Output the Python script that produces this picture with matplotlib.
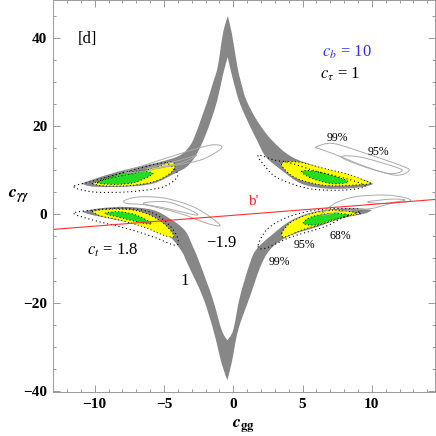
import matplotlib
matplotlib.use("Agg")
import numpy as np
import matplotlib.pyplot as plt
from matplotlib.path import Path
from matplotlib.patches import PathPatch
from matplotlib.ticker import MultipleLocator

plt.rcParams["font.family"] = "serif"
plt.rcParams["font.serif"] = ["Liberation Serif", "DejaVu Serif"]
plt.rcParams["mathtext.fontset"] = "stix"

# ---- regions (c_gg, c_yy) ----
gray_upper = [(-10.94, 7.0), (-9.6, 8.5), (-7.7, 10.2), (-5.3, 11.9), (-3.85, 13.4),
              (-3.1, 15.7), (-2.7, 18.4), (-2.35, 21.4), (-1.85, 25.9), (-1.45, 30.0),
              (-1.12, 33.5), (-0.74, 41.1), (-0.4, 45.0), (-0.1, 41.1), (0.3, 33.5),
              (0.6, 29.5), (0.95, 25.9), (1.7, 21.4), (2.77, 16.9), (4.2, 13.1),
              (6.1, 10.8), (8.06, 8.9), (9.5, 7.8), (10.1, 6.9),
              (9.5, 6.3), (8.3, 5.9), (6.6, 5.9), (4.9, 7.0), (3.5, 10.0), (2.35, 13.1),
              (1.7, 16.9), (1.0, 21.4), (0.4, 25.9), (-0.1, 31.6), (-0.4, 35.7),
              (-0.75, 31.6), (-1.15, 25.9), (-1.6, 21.4), (-1.95, 18.4), (-2.3, 15.8),
              (-2.75, 13.1), (-3.36, 10.8), (-4.4, 9.0), (-5.8, 7.0), (-7.7, 6.3),
              (-10.1, 6.3)]
gray_lower = [(-10.94, 0.6), (-9.6, 1.4), (-7.7, 1.7), (-5.8, 1.0), (-4.6, -0.9),
              (-3.5, -3.6), (-2.9, -7.4), (-2.4, -11.2), (-1.5, -19.0), (-0.84, -26.2),
              (-0.43, -28.5), (0.0, -26.2), (0.48, -18.7), (1.2, -11.1), (1.7, -7.8),
              (2.77, -4.7), (4.0, -1.7), (5.4, 0.2), (7.1, 1.2), (9.0, 1.4), (9.98, 1.0),
              (9.5, 0.2), (7.8, -0.9), (6.1, -2.8), (4.2, -4.7), (2.85, -7.35),
              (2.05, -11.2), (1.2, -18.7), (0.36, -26.2), (-0.12, -33.8), (-0.43, -37.6),
              (-0.84, -33.8), (-1.44, -26.2), (-2.2, -18.7), (-3.3, -11.2), (-3.7, -8.5),
              (-4.57, -5.1), (-5.8, -3.2), (-7.7, -1.7), (-10.1, -0.2)]
# pointed ends of the bands (arm tips and spike tips)
band_tips = [(-10.94, 7.0), (-0.4, 45.0), (10.1, 6.9), (-0.4, 35.7),
             (-10.94, 0.6), (-0.43, -28.5), (9.98, 1.0), (-0.43, -37.6)]

yellow_regions = [
    [(-10.2, 7.0), (-8.9, 8.2), (-7.2, 9.3), (-5.5, 10.8), (-4.57, 11.9), (-4.2, 11.2),
     (-4.57, 9.3), (-5.77, 7.4), (-7.69, 6.5), (-9.4, 6.5)],
    [(-10.2, 0.75), (-8.9, 1.2), (-7.2, 0.97), (-6.0, -0.16), (-5.05, -2.0), (-4.45, -3.95),
     (-4.33, -5.1), (-5.05, -4.7), (-6.5, -2.8), (-8.2, -1.3), (-9.6, -0.3)],
    [(3.5, 11.6), (4.7, 11.9), (6.6, 10.4), (8.5, 8.9), (10.0, 7.0), (8.5, 6.6),
     (6.6, 6.6), (4.9, 7.8), (4.0, 9.3)],
    [(3.5, -4.3), (4.2, -1.7), (5.66, 0.23), (7.34, 0.97), (9.26, 0.23), (8.06, -0.54),
     (6.6, -2.0), (4.93, -3.56), (3.73, -5.1)],
]
yellow_tips = [(-10.2, 7.0), (-10.2, 0.75), (10.0, 7.0), (9.26, 0.23)]
green_regions = [
    [(-9.8, 7.2), (-8.8, 8.6), (-7.7, 9.6), (-6.5, 9.8), (-5.8, 9.3), (-6.3, 8.3),
     (-7.2, 7.2), (-8.5, 6.8)],
    [(-9.25, 0.23), (-8.2, 0.6), (-7.0, -0.16), (-5.9, -2.0), (-6.5, -2.0), (-7.9, -0.9)],
    [(4.93, 9.7), (5.66, 9.9), (7.1, 8.9), (8.3, 7.4), (7.1, 7.0), (5.66, 8.2)],
    [(5.05, -2.0), (5.66, -0.54), (7.1, 0.23), (8.4, -0.16), (7.1, -1.3), (5.9, -2.4)],
]
dotted_loops = [
    [(-11.5, 6.3), (-10.1, 5.1), (-7.7, 5.1), (-5.5, 5.9), (-4.57, 7.0), (-4.0, 9.0),
     (-4.6, 11.3), (-5.3, 11.6), (-7.7, 9.7), (-10.1, 7.6)],
    [(-11.5, 0.23), (-10.1, -1.3), (-7.7, -3.2), (-5.77, -5.1), (-4.2, -7.0), (-4.0, -5.5),
     (-4.6, -2.5), (-5.8, 0.3), (-7.7, 1.4), (-10.1, 1.0)],
    [(1.8, 13.4), (2.4, 10.5), (3.25, 8.2), (5.4, 5.9), (7.8, 5.5), (9.5, 6.3), (8.5, 7.8),
     (6.0, 9.8), (4.0, 11.8), (3.0, 12.3)],
    [(1.8, -7.0), (2.5, -3.2), (4.0, -0.54), (5.9, 0.97), (7.8, 1.36), (9.26, 0.97),
     (8.0, -0.6), (6.6, -2.8), (4.2, -5.1), (2.3, -7.7)],
]
thin_loops = [
    [(-7.8, 9.7), (-6.0, 11.6), (-3.4, 14.2), (-1.7, 15.7), (-0.9, 15.6), (-1.0, 14.6),
     (-2.4, 12.3), (-4.8, 10.8), (-6.7, 9.7)],
    [(-6.25, 10.4), (-3.85, 12.3), (-2.64, 13.4), (-3.85, 11.6)],
    [(-7.8, 3.24), (-6.7, 4.0), (-4.8, 3.6), (-2.64, 1.36), (-0.96, -2.4), (-1.92, -2.0),
     (-3.85, 0.23), (-6.25, 2.1), (-7.7, 2.5)],
    [(-6.5, 2.5), (-4.8, 2.86), (-3.1, 0.97), (-2.64, -0.16), (-4.8, 1.36)],
    [(5.97, 15.3), (7.2, 16.1), (9.6, 13.8), (12.0, 11.2), (12.7, 10.0), (11.7, 8.9),
     (9.6, 10.8), (7.2, 13.8), (6.2, 14.9)],
    [(7.8, 13.06), (9.1, 13.06), (11.25, 11.2), (12.2, 10.0), (11.25, 9.3), (9.1, 11.2)],
    [(6.4, -0.16), (7.34, 2.5), (8.8, 4.0), (10.9, 4.4), (12.4, 3.8), (12.75, 3.0),
     (11.4, 2.5), (10.0, 1.36), (8.0, 0.8)],
    [(9.7, 2.86), (11.4, 3.47), (12.4, 3.24), (10.9, 2.5)],
]
line_b_x = [-13.0, 14.6]
line_b_y = [-3.4, 3.4]

x_ticks = [-10, -5, 0, 5, 10]
y_ticks = [-40, -20, 0, 20, 40]


def smooth_path(pts, corners=()):
    """Closed curve through the read points (cubic pieces), sharp at corners."""
    P = np.array(pts, float)
    n = len(P)
    T = np.zeros_like(P)
    for i in range(n):
        if tuple(pts[i]) not in corners:
            T[i] = (P[(i + 1) % n] - P[i - 1]) / 2
    verts = [P[0]]
    codes = [Path.MOVETO]
    for i in range(n):
        j = (i + 1) % n
        verts += [P[i] + T[i] / 3, P[j] - T[j] / 3, P[j]]
        codes += [Path.CURVE4] * 3
    verts.append(P[0])
    codes.append(Path.CLOSEPOLY)
    return Path(verts, codes)


fig = plt.figure(figsize=(4.36, 4.36), dpi=100)
ax = fig.add_axes([0.1209, 0.1009, 0.8768, 0.8985])

for band in (gray_upper, gray_lower):
    ax.add_patch(PathPatch(smooth_path(band, band_tips), fc="#878787", lw=0))
for reg in yellow_regions:
    ax.add_patch(PathPatch(smooth_path(reg, yellow_tips), fc="#ffff00", lw=0))
for reg in green_regions:
    ax.add_patch(PathPatch(smooth_path(reg), fc="#22dd22", lw=0))
for reg in yellow_regions:
    ax.add_patch(PathPatch(smooth_path(reg, yellow_tips), fill=False, ec="black",
                           lw=0.7, ls=(0, (1, 2.5))))
for reg in green_regions:
    ax.add_patch(PathPatch(smooth_path(reg), fill=False, ec="black",
                           lw=0.7, ls=(0, (1, 2.5))))
for loop in dotted_loops:
    ax.add_patch(PathPatch(smooth_path(loop), fill=False, ec="black",
                           lw=0.8, ls=(0, (1, 2.5))))
for loop in thin_loops:
    ax.add_patch(PathPatch(smooth_path(loop), fill=False, ec="#aaaaaa", lw=0.7))
ax.plot(line_b_x, line_b_y, color="#ff3030", lw=0.8)

# labels inside the plot
ax.text(-10.5, 39.9, "[d]", fontsize=12, ha="center", va="center")
ax.text(8.2, 36.8, r"$c_b$ = 10", fontsize=12, color="#3030ff", ha="center", va="center")
ax.text(7.7, 31.8, r"$c_\tau$ = 1", fontsize=12, ha="center", va="center")
ax.text(7.5, 17.4, "99%", fontsize=8.5, ha="center", va="center")
ax.text(10.5, 14.2, "95%", fontsize=8.5, ha="center", va="center")
ax.text(1.46, 3.0, "b'", fontsize=11, color="#ff2020", ha="center", va="center")
ax.text(-8.7, -8.1, r"$c_t$ = 1.8", fontsize=12, ha="center", va="center")
ax.text(-0.9, -6.4, "\u22121.9", fontsize=12, ha="center", va="center")
ax.text(-3.5, -15.1, "1", fontsize=12, ha="center", va="center")
ax.text(3.3, -10.9, "99%", fontsize=8.5, ha="center", va="center")
ax.text(5.17, -6.85, "95%", fontsize=8.5, ha="center", va="center")
ax.text(7.7, -4.9, "68%", fontsize=8.5, ha="center", va="center")

ax.set_xlim(-13.03, 14.56)
ax.set_ylim(-40.3, 48.6)
ax.set_xticks(x_ticks)
ax.set_yticks(y_ticks)
ax.set_xticklabels([str(t).replace("-", "\u2212") for t in x_ticks], fontweight="bold")
ax.set_yticklabels([str(t).replace("-", "\u2212") for t in y_ticks], fontweight="bold")
ax.xaxis.set_minor_locator(MultipleLocator(1))
ax.yaxis.set_minor_locator(MultipleLocator(5))
ax.tick_params(which="both", direction="in", top=True, right=True,
               color="#888888", width=0.6, labelsize=11, pad=4)
ax.tick_params(which="major", length=5)
ax.tick_params(which="minor", length=2.5)
for s in ax.spines.values():
    s.set_color("#999999")
    s.set_linewidth(0.7)

ax.set_xlabel(r"$\mathbfit{c}_{\mathbf{gg}}$", fontsize=13, labelpad=5)
ax.set_ylabel(r"$\mathbfit{c}_{\mathbfit{\gamma\gamma}}$", fontsize=13, rotation=0,
              ha="center", va="center")
ax.yaxis.set_label_coords(-0.088, 0.5)

fig.savefig("out.png", dpi=100)
